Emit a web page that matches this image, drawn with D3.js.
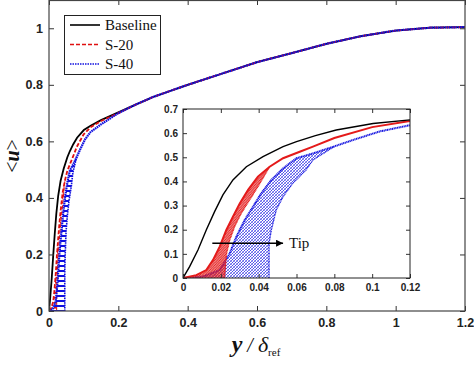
<!DOCTYPE html>
<html>
<head>
<meta charset="utf-8">
<script src="https://cdn.jsdelivr.net/npm/d3@7"></script>
<style>
  body { margin: 0; background: #fff; }
  svg { display: block; }
  .tick text { font-family: "Liberation Sans", Arial, sans-serif; font-weight: bold; fill: #222; }
  .tick line { stroke: #333; }
</style>
</head>
<body>
<div id="chart"></div>
<script>
// data: x = y/delta_ref, value = <u>

// outer part, where all three profiles collapse onto one curve
var outerY = [0.2, 0.25, 0.3, 0.4, 0.5, 0.6, 0.7, 0.8, 0.9, 1.0, 1.1, 1.2]
var outerU = [0.70, 0.73, 0.757, 0.80, 0.84, 0.88, 0.912, 0.945, 0.972, 0.992, 1.002, 1.004]

// baseline, near wall
var baseY = [0, 0.0035, 0.0079, 0.0123, 0.0167, 0.0211, 0.0264, 0.0335, 0.0423, 0.0529, 0.06, 0.07, 0.081, 0.1005, 0.12, 0.15]
var baseU = [0, 0.047, 0.116, 0.199, 0.275, 0.344, 0.406, 0.461, 0.503, 0.544, 0.565, 0.59, 0.613, 0.640, 0.655, 0.675]

// S-20, left (upper) edge of the bundle and right (lower) edge
var s20LeftY = [0, 0.007, 0.0123, 0.0159, 0.0194, 0.0229, 0.0264, 0.03, 0.0344, 0.0396, 0.0458, 0.0529, 0.0617, 0.0687, 0.08, 0.1, 0.12, 0.15]
var s20LeftU = [0, 0.012, 0.033, 0.075, 0.13, 0.199, 0.254, 0.309, 0.365, 0.42, 0.461, 0.496, 0.523, 0.544, 0.58, 0.625, 0.65, 0.672]
var s20RightY = [0.022, 0.0225, 0.023, 0.0247, 0.0273, 0.0308, 0.0352, 0.0396, 0.0458]
var s20RightU = [0, 0.05, 0.10, 0.157, 0.213, 0.268, 0.323, 0.378, 0.461]

// S-40
var s40LeftY = [0, 0.0106, 0.0194, 0.0247, 0.0282, 0.0326, 0.037, 0.0414, 0.0467, 0.0529, 0.06, 0.0687, 0.08, 0.09, 0.104, 0.12, 0.15]
var s40LeftU = [0, 0.006, 0.033, 0.102, 0.171, 0.24, 0.295, 0.351, 0.406, 0.454, 0.496, 0.516, 0.545, 0.572, 0.607, 0.633, 0.66]
var s40RightY = [0.0455, 0.0455, 0.0467, 0.0493, 0.0529, 0.058, 0.065, 0.0687, 0.08]
var s40RightU = [0, 0.144, 0.199, 0.282, 0.337, 0.392, 0.447, 0.489, 0.545]

var mainXTicks = [0, 0.2, 0.4, 0.6, 0.8, 1, 1.2]
var mainYTicks = [0, 0.2, 0.4, 0.6, 0.8, 1]
var insetXTicks = [0, 0.02, 0.04, 0.06, 0.08, 0.1, 0.12]
var insetYTicks = [0, 0.1, 0.2, 0.3, 0.4, 0.5, 0.6, 0.7]

var legendNames = ["Baseline", "S-20", "S-40"]

// tip arrow, in inset data coords
var tipFrom = [0.0155, 0.144]
var tipTo = [0.0529, 0.144]

function pts(xs, us) {
    return xs.map(function(v, i) { return [v, us[i]] })
}

var baseline = pts(baseY, baseU).concat(pts(outerY, outerU).slice(1))
var s20 = pts(s20LeftY, s20LeftU).concat(pts(outerY, outerU))
var s40 = pts(s40LeftY, s40LeftU).concat(pts(outerY, outerU))
var s20band = pts(s20LeftY, s20LeftU).filter(function(d) { return d[1] <= 0.461 })
    .concat(pts(s20RightY, s20RightU).reverse())
var s40band = pts(s40LeftY, s40LeftU).filter(function(d) { return d[1] <= 0.545 })
    .concat(pts(s40RightY, s40RightU).reverse())

var w = 474
var h = 365

var svg = d3.select("#chart").append("svg")
    .attr("width", w)
    .attr("height", h)

var defs = svg.append("defs")

// hatch patterns for the profile bundles
var p = defs.append("pattern").attr("id", "mainBlue")
    .attr("patternUnits", "userSpaceOnUse").attr("width", 6).attr("height", 5)
p.append("rect").attr("x", 0).attr("y", 0).attr("width", 6).attr("height", 2).attr("fill", "#1010e0")

p = defs.append("pattern").attr("id", "mainRed")
    .attr("patternUnits", "userSpaceOnUse").attr("width", 6).attr("height", 5)
p.append("rect").attr("x", 0).attr("y", 2).attr("width", 4).attr("height", 1.6).attr("fill", "#e01010")

p = defs.append("pattern").attr("id", "insetBlue")
    .attr("patternUnits", "userSpaceOnUse").attr("width", 3).attr("height", 3)
p.append("path").attr("d", "M0,3L3,0M-1,1L1,-1M2,4L4,2")
    .attr("stroke", "#1515e0").attr("stroke-width", 0.9).attr("stroke-dasharray", "1,0.5")
p.append("path").attr("d", "M0,0L3,3")
    .attr("stroke", "#1515e0").attr("stroke-width", 0.6).attr("stroke-dasharray", "1,0.7")

p = defs.append("pattern").attr("id", "insetRed")
    .attr("patternUnits", "userSpaceOnUse").attr("width", 2.5).attr("height", 2.5)
p.append("path").attr("d", "M0,2.5L2.5,0M-1,1L1,-1M1.5,3.5L3.5,1.5")
    .attr("stroke", "#e41a1a").attr("stroke-width", 1.3)

defs.append("clipPath").attr("id", "clipMain")
    .append("rect").attr("x", 49).attr("y", 0).attr("width", 416).attr("height", 311)
defs.append("clipPath").attr("id", "clipInset")
    .append("rect").attr("x", 183).attr("y", 109).attr("width", 227).attr("height", 169)

defs.append("marker").attr("id", "arrowHead")
    .attr("viewBox", "0 0 10 10").attr("refX", 10).attr("refY", 5)
    .attr("markerWidth", 9).attr("markerHeight", 7).attr("markerUnits", "userSpaceOnUse")
    .attr("orient", "auto")
    .append("path").attr("d", "M0,0L10,5L0,10z").attr("fill", "#000")

// main axes

var x = d3.scaleLinear().domain([0, 1.2]).range([49, 465])
var y = d3.scaleLinear().domain([0, 1.1]).range([311, 0])

var line = d3.line().x(function(d) { return x(d[0]) }).y(function(d) { return y(d[1]) })

var plot = svg.append("g").attr("clip-path", "url(#clipMain)")

plot.append("path").attr("d", line(baseline))
    .attr("fill", "none").attr("stroke", "#000").attr("stroke-width", 1.8)

plot.append("path").attr("d", line(s20band) + "Z")
    .attr("fill", "url(#mainRed)").attr("stroke", "none")
plot.append("path").attr("d", line(s20))
    .attr("fill", "none").attr("stroke", "#e01010").attr("stroke-width", 1.8)
    .attr("stroke-dasharray", "4,2")
plot.append("path").attr("d", line(pts(s20RightY, s20RightU)))
    .attr("fill", "none").attr("stroke", "#e01010").attr("stroke-width", 1)
    .attr("stroke-dasharray", "4,2")

plot.append("path").attr("d", line(s40band) + "Z")
    .attr("fill", "url(#mainBlue)").attr("stroke", "none")
plot.append("path").attr("d", line(s40))
    .attr("fill", "none").attr("stroke", "#1010e0").attr("stroke-width", 2.2)
    .attr("stroke-dasharray", "1.6,0.6")
plot.append("path").attr("d", line(pts(s40RightY, s40RightU)))
    .attr("fill", "none").attr("stroke", "#1010e0").attr("stroke-width", 1.6)
    .attr("stroke-dasharray", "1.6,0.8")

var fmt = function(d) { return d3.format("~g")(d) }

svg.append("g").attr("transform", "translate(0,311)")
    .call(d3.axisBottom(x).tickValues(mainXTicks).tickFormat(fmt).tickSizeInner(-5).tickSizeOuter(0).tickPadding(7))
    .call(function(g) { g.select(".domain").remove() })
    .selectAll("text").style("font-size", "12.5px")
svg.append("g").attr("transform", "translate(49,0)")
    .call(d3.axisLeft(y).tickValues(mainYTicks).tickFormat(fmt).tickSizeInner(-5).tickSizeOuter(0).tickPadding(6))
    .call(function(g) { g.select(".domain").remove() })
    .selectAll("text").style("font-size", "12.5px")
svg.append("g").attr("transform", "translate(0,0)")
    .call(d3.axisTop(x).tickValues(mainXTicks).tickFormat("").tickSizeInner(-5).tickSizeOuter(0))
    .call(function(g) { g.select(".domain").remove() })
svg.append("g").attr("transform", "translate(465,0)")
    .call(d3.axisRight(y).tickValues(mainYTicks).tickFormat("").tickSizeInner(-5).tickSizeOuter(0))
    .call(function(g) { g.select(".domain").remove() })

svg.append("rect").attr("x", 49).attr("y", 0.5).attr("width", 416).attr("height", 310.5)
    .attr("fill", "none").attr("stroke", "#444").attr("stroke-width", 1.2)

// axis titles
var xt = svg.append("text").attr("x", 256).attr("y", 352).attr("text-anchor", "middle")
    .style("font-family", "'Liberation Serif', 'Times New Roman', serif").style("fill", "#111")
xt.append("tspan").text("y").style("font-style", "italic").style("font-weight", "bold").style("font-size", "24px")
xt.append("tspan").text(" / ").style("font-size", "20px").style("font-style", "italic")
xt.append("tspan").text("δ").style("font-style", "italic").style("font-size", "22px")
xt.append("tspan").text("ref").style("font-size", "11px").attr("dy", 4)

var yt = svg.append("text").attr("transform", "translate(19,156) rotate(-90)").attr("text-anchor", "middle")
    .style("font-family", "'Liberation Serif', 'Times New Roman', serif").style("font-size", "20px").style("fill", "#111")
yt.append("tspan").text("<")
yt.append("tspan").text("u").style("font-style", "italic").style("font-weight", "bold")
yt.append("tspan").text(">")

// legend
var lg = svg.append("g")
lg.append("rect").attr("x", 64.5).attr("y", 15.5).attr("width", 96).attr("height", 59)
    .attr("fill", "#fff").attr("stroke", "#222").attr("stroke-width", 1)
var legendStyles = [
    { color: "#000", dash: null },
    { color: "#e01010", dash: "4,2" },
    { color: "#1010e0", dash: "1.5,1" }
]
legendNames.forEach(function(name, i) {
    var ly = 25 + i * 19.5
    lg.append("line").attr("x1", 70).attr("x2", 100).attr("y1", ly).attr("y2", ly)
        .attr("stroke", legendStyles[i].color).attr("stroke-width", 1.6)
        .attr("stroke-dasharray", legendStyles[i].dash)
    lg.append("text").attr("x", 105).attr("y", ly + 5).text(name)
        .style("font-family", "'Liberation Serif', 'Times New Roman', serif").style("font-size", "15px").style("fill", "#111")
})

// inset

var ix = d3.scaleLinear().domain([0, 0.12]).range([183, 410])
var iy = d3.scaleLinear().domain([0, 0.7]).range([278, 109])
var iline = d3.line().x(function(d) { return ix(d[0]) }).y(function(d) { return iy(d[1]) })

svg.append("rect").attr("x", 183).attr("y", 109).attr("width", 227).attr("height", 169).attr("fill", "#fff")

var ip = svg.append("g").attr("clip-path", "url(#clipInset)")

ip.append("path").attr("d", iline(s40band) + "Z")
    .attr("fill", "url(#insetBlue)").attr("stroke", "none")
ip.append("path").attr("d", iline(s40))
    .attr("fill", "none").attr("stroke", "#1515e0").attr("stroke-width", 2)
    .attr("stroke-dasharray", "1.2,0.5")
ip.append("path").attr("d", iline(pts(s40RightY, s40RightU)))
    .attr("fill", "none").attr("stroke", "#1515e0").attr("stroke-width", 1.3)
    .attr("stroke-dasharray", "1,0.6")

ip.append("path").attr("d", iline(s20band) + "Z")
    .attr("fill", "url(#insetRed)").attr("stroke", "none")
ip.append("path").attr("d", iline(s20))
    .attr("fill", "none").attr("stroke", "#e41a1a").attr("stroke-width", 2)
ip.append("path").attr("d", iline(pts(s20RightY, s20RightU)))
    .attr("fill", "none").attr("stroke", "#e41a1a").attr("stroke-width", 1.3)
    .attr("stroke-dasharray", "1,0.5")

ip.append("path").attr("d", iline(baseline))
    .attr("fill", "none").attr("stroke", "#000").attr("stroke-width", 1.4)

svg.append("g").attr("transform", "translate(0,278)")
    .call(d3.axisBottom(ix).tickValues(insetXTicks).tickFormat(fmt).tickSizeInner(-4).tickSizeOuter(0).tickPadding(6))
    .call(function(g) { g.select(".domain").remove() })
    .selectAll("text").style("font-size", "10px")
svg.append("g").attr("transform", "translate(183,0)")
    .call(d3.axisLeft(iy).tickValues(insetYTicks).tickFormat(fmt).tickSizeInner(-4).tickSizeOuter(0).tickPadding(5))
    .call(function(g) { g.select(".domain").remove() })
    .selectAll("text").style("font-size", "10px")
svg.append("g").attr("transform", "translate(0,109)")
    .call(d3.axisTop(ix).tickValues(insetXTicks).tickFormat("").tickSizeInner(-4).tickSizeOuter(0))
    .call(function(g) { g.select(".domain").remove() })
svg.append("g").attr("transform", "translate(410,0)")
    .call(d3.axisRight(iy).tickValues(insetYTicks).tickFormat("").tickSizeInner(-4).tickSizeOuter(0))
    .call(function(g) { g.select(".domain").remove() })

svg.append("rect").attr("x", 183).attr("y", 109).attr("width", 227).attr("height", 169)
    .attr("fill", "none").attr("stroke", "#222").attr("stroke-width", 1)

// tip arrow
svg.append("line")
    .attr("x1", ix(tipFrom[0])).attr("y1", iy(tipFrom[1]))
    .attr("x2", ix(tipTo[0])).attr("y2", iy(tipTo[1]))
    .attr("stroke", "#000").attr("stroke-width", 1.5)
    .attr("marker-end", "url(#arrowHead)")
svg.append("text").attr("x", ix(tipTo[0]) + 6).attr("y", iy(tipTo[1]) + 5).text("Tip")
    .style("font-family", "'Liberation Serif', 'Times New Roman', serif").style("font-size", "15px").style("fill", "#111")
</script>
</body>
</html>
